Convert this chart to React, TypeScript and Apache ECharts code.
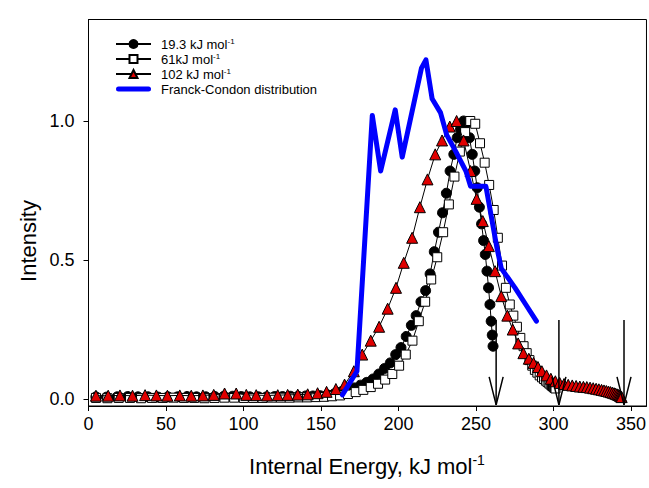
import React, { useEffect, useRef } from "react";
import * as echarts from "echarts";

const FONT = "Liberation Sans, Arial, sans-serif";

// Series names (legend order)
const seriesNames = ["19.3 kJ mol-1", "61kJ mol-1", "102 kJ mol-1", "Franck-Condon distribution"];
const legendLabels: Record<string, string> = {
  "19.3 kJ mol-1": "19.3 kJ mol{sup|-1}",
  "61kJ mol-1": "61kJ mol{sup|-1}",
  "102 kJ mol-1": "102 kJ mol{sup|-1}",
  "Franck-Condon distribution": "Franck-Condon distribution",
};

// Axis ticks
const xTicks = [0, 50, 100, 150, 200, 250, 300, 350];
const yTicks = [0, 0.5, 1.0];

// 19.3 kJ/mol (filled circles)
const circE = [4.8, 11.7, 18.5, 25.3, 31.9, 38.4, 44.9, 51.2, 57.5, 63.6, 69.7, 75.7, 81.5, 87.3, 93.0, 98.6, 104.1, 109.6, 114.9, 120.1, 125.2, 130.3, 135.2, 140.1, 144.8,
  149.5, 154.1, 158.6, 163.0, 167.2, 171.4, 175.5, 179.5, 183.5, 187.3, 191.0, 194.7, 198.2, 201.6, 205.0, 208.3, 211.4, 214.5, 217.5, 220.4, 223.1, 225.8, 228.4, 230.9, 233.3, 235.7, 237.9, 240.0, 242.0, 244.0, 245.8, 247.6, 249.2, 250.8, 252.2, 253.6, 254.9, 256.0, 257.1, 258.1, 259.0, 259.8, 260.5, 261.0];
const circI = [0.008, 0.007, 0.008, 0.009, 0.008, 0.008, 0.007, 0.008, 0.008, 0.009, 0.008, 0.008, 0.009, 0.01, 0.01, 0.009, 0.008, 0.008, 0.008, 0.009, 0.009, 0.01, 0.01, 0.011, 0.011,
  0.012, 0.015, 0.019, 0.024, 0.03, 0.04, 0.05, 0.06, 0.072, 0.09, 0.11, 0.13, 0.16, 0.185, 0.225, 0.265, 0.30, 0.35, 0.39, 0.45, 0.53, 0.60, 0.67, 0.74, 0.82, 0.88, 0.94, 0.97, 1.0, 0.99, 0.94, 0.88, 0.82, 0.76, 0.69, 0.63, 0.57, 0.52, 0.46, 0.40, 0.34, 0.28, 0.23, 0.19];

// 61 kJ/mol (open squares)
const sqE = [4.8, 12.2, 19.5, 26.8, 33.9, 41.0, 47.9, 54.8, 61.6, 68.2, 74.8, 81.3, 87.7, 94.0, 100.2, 106.3, 112.3, 118.3, 124.1, 129.8, 135.5, 141.0, 146.5,
  151.9, 157.1, 162.3, 167.4, 172.4, 177.3, 182.1, 186.8, 191.4, 196.0, 200.4, 204.7, 209.0, 213.1, 217.2, 221.1, 225.0, 228.8, 232.5, 236.1, 239.6, 243.0, 246.3, 249.5, 252.6, 255.6, 258.5, 261.4, 264.1, 266.8, 269.3, 271.8, 274.1, 276.4, 278.6, 280.7, 282.7, 284.5, 286.3, 288.0, 289.6, 291.1, 292.6, 293.9, 295.1, 296.2, 297.3, 298.2, 299.0, 299.7, 300.4, 300.9, 301.3];
const sqI = [0.004, 0.003, 0.004, 0.004, 0.003, 0.004, 0.004, 0.005, 0.004, 0.004, 0.003, 0.004, 0.005, 0.005, 0.004, 0.004, 0.004, 0.005, 0.005, 0.005, 0.006, 0.006, 0.007,
  0.008, 0.01, 0.013, 0.018, 0.025, 0.033, 0.043, 0.055, 0.07, 0.09, 0.12, 0.16, 0.21, 0.28, 0.35, 0.43, 0.51, 0.60, 0.70, 0.80, 0.89, 0.96, 1.0, 0.99, 0.92, 0.85, 0.77, 0.68, 0.58, 0.48, 0.40, 0.34, 0.30, 0.26, 0.22, 0.19, 0.165, 0.14, 0.12, 0.105, 0.095, 0.085, 0.078, 0.072, 0.066, 0.061, 0.056, 0.052, 0.048, 0.045, 0.042, 0.04, 0.038];

// 102 kJ/mol (red triangles)
const triE = [4.8, 12.7, 20.3, 28.4, 36.5, 43.8, 50.9, 58.9, 66.3, 73.8, 80.8, 87.8, 95.3, 101.8, 108.2, 115.2, 122.1, 128.5, 135.0, 141.4, 147.8, 153.6, 159.6, 165.2, 171.2, 176.6, 182.1, 187.5, 193.0, 198.4, 203.4, 208.8, 213.8, 218.7, 223.7, 228.1, 233.1, 237.5, 242.0, 246.5, 250.4, 254.4, 258.3, 262.3, 266.3, 270.2, 273.7, 277.2, 280.6, 284.1, 287.1, 290.0, 292.5, 295.5,
  298.3, 301.2, 304.0, 306.8, 309.5, 312.1, 314.6, 317.0, 319.3, 321.5, 323.6, 325.6, 327.5, 329.3, 331.0, 332.6, 334.1, 335.5, 336.8, 338.0, 339.1, 340.1, 341.0, 341.8, 342.5, 343.1, 343.6, 344.0];
const triI = [0.012, 0.012, 0.013, 0.012, 0.014, 0.013, 0.012, 0.013, 0.012, 0.013, 0.015, 0.02, 0.02, 0.015, 0.014, 0.013, 0.014, 0.015, 0.016, 0.017, 0.021, 0.026, 0.036, 0.052, 0.10, 0.16, 0.21, 0.26, 0.325, 0.40, 0.49, 0.58, 0.69, 0.79, 0.88, 0.93, 0.98, 1.0, 0.93, 0.82, 0.72, 0.64, 0.55, 0.46, 0.37, 0.30, 0.25, 0.20, 0.165, 0.145, 0.13, 0.115, 0.10, 0.085,
  0.073, 0.064, 0.058, 0.054, 0.051, 0.049, 0.047, 0.045, 0.044, 0.043, 0.041, 0.039, 0.037, 0.035, 0.033, 0.031, 0.029, 0.027, 0.025, 0.023, 0.021, 0.019, 0.017, 0.015, 0.013, 0.011, 0.009, 0.007];

// Franck-Condon distribution (blue line)
const fcE = [163.8, 173.2, 183.1, 188.5, 197.9, 202.4, 214.8, 217.7, 221.7, 227.1, 231.1, 237.0, 243.5, 246.5, 256.4, 263.3, 266.3, 275.2, 282.1, 289.0];
const fcI = [0.015, 0.10, 1.02, 0.82, 1.04, 0.87, 1.19, 1.22, 1.08, 1.03, 0.95, 0.89, 0.82, 0.765, 0.765, 0.55, 0.47, 0.40, 0.34, 0.28];

// Available-energy arrows: x position, top, tip
const arrowE = [263, 303.5, 345.5];
const arrowTop = [0.284, 0.284, 0.284];
const arrowTip = [-0.021, -0.021, -0.021];

const zip = (a: number[], b: number[]) => a.map((v, i) => [v, b[i]]);

export default function App() {
  const ref = useRef<HTMLDivElement>(null);
  useEffect(() => {
    document.body.style.margin = "0";
    if (!ref.current) return;
    const chart = echarts.init(ref.current, null, { renderer: "svg" });
    const option: any = {
      animation: false,
      backgroundColor: "#fff",
      textStyle: { fontFamily: FONT },
      grid: { left: 88.5, right: 0.7, top: 19.5, bottom: 82, show: true, borderColor: "#000", borderWidth: 1, backgroundColor: "transparent" },
      xAxis: {
        type: "value", min: 0, max: 360,
        axisLine: { show: true, onZero: false, lineStyle: { color: "#000", width: 1 } },
        axisTick: { show: true, customValues: xTicks, length: 5, lineStyle: { color: "#000", width: 1 } },
        axisLabel: { customValues: xTicks, fontSize: 18, color: "#000", margin: 9, fontFamily: FONT },
        splitLine: { show: false },
      },
      yAxis: {
        type: "value", min: -0.025, max: 1.365,
        axisLine: { show: true, onZero: false, lineStyle: { color: "#000", width: 1 } },
        axisTick: { show: true, customValues: yTicks, length: 5, lineStyle: { color: "#000", width: 1 } },
        axisLabel: { customValues: yTicks, fontSize: 18, color: "#000", margin: 14, fontFamily: FONT, formatter: (v: number) => v.toFixed(1) },
        splitLine: { show: false },
      },
      legend: {
        data: [
          seriesNames[0], seriesNames[1], seriesNames[2],
          { name: seriesNames[3], icon: "path://M2.5,0 H32.5 A2.5,2.5 0 0 1 32.5,5 H2.5 A2.5,2.5 0 0 1 2.5,0 Z", itemStyle: { color: "#0000ff", borderWidth: 0 } },
        ],
        orient: "vertical", left: 115, top: 37, padding: 0,
        itemWidth: 35, itemHeight: 10, itemGap: 1,
        formatter: (n: string) => legendLabels[n],
        textStyle: { fontSize: 13, color: "#000", fontFamily: FONT, lineHeight: 14, padding: [0, 0, 0, 5],
          rich: { sup: { fontSize: 8, verticalAlign: "top", lineHeight: 14, fontFamily: FONT, color: "#000" } } },
      },
      graphic: [
        { type: "text", x: 28, y: 241, rotation: Math.PI / 2,
          style: { text: "Intensity", fontSize: 22, fontFamily: FONT, fill: "#000", align: "center", verticalAlign: "middle", textAlign: "center", textVerticalAlign: "middle" } },
        { type: "text", x: 367, y: 466,
          style: { text: "Internal Energy, kJ mol{sup|-1}", fontSize: 22, fontFamily: FONT, fill: "#000", align: "center", verticalAlign: "middle", textAlign: "center", textVerticalAlign: "middle", lineHeight: 27,
            rich: { sup: { fontSize: 14, verticalAlign: "top", lineHeight: 27, fontFamily: FONT, fill: "#000" } } } },
      ],
      series: [
        { name: seriesNames[0], type: "line", data: zip(circE, circI), symbol: "circle", symbolSize: 10,
          lineStyle: { color: "#000", width: 1 }, itemStyle: { color: "#000", borderColor: "#000", borderWidth: 1 }, z: 2 },
        { name: seriesNames[1], type: "line", data: zip(sqE, sqI), symbol: "rect", symbolSize: 9,
          lineStyle: { color: "#000", width: 1 }, itemStyle: { color: "#fff", borderColor: "#000", borderWidth: 1 }, z: 3 },
        { name: seriesNames[2], type: "line", data: zip(triE, triI), symbol: "triangle", symbolSize: 11,
          lineStyle: { color: "#000", width: 1 }, itemStyle: { color: "#e00000", borderColor: "#000", borderWidth: 1 }, z: 4 },
        { name: seriesNames[3], type: "line", data: zip(fcE, fcI), symbol: "none", showSymbol: false,
          lineStyle: { color: "#0000ff", width: 5, join: "round", cap: "round" }, itemStyle: { color: "#0000ff" }, z: 5 },
        { name: "arrows", type: "custom", silent: true, z: 6,
          data: arrowE.map((e, i) => [e, arrowTop[i], arrowTip[i]]),
          encode: { x: 0, y: [1, 2] },
          renderItem: (_p: any, api: any) => {
            const top = api.coord([api.value(0), api.value(1)]);
            const tip = api.coord([api.value(0), api.value(2)]);
            return {
              type: "group",
              children: [
                { type: "line", shape: { x1: top[0], y1: top[1], x2: tip[0], y2: tip[1] }, style: { stroke: "#000", lineWidth: 1.5 } },
                { type: "polyline", shape: { points: [[tip[0] - 7, tip[1] - 28], [tip[0], tip[1]], [tip[0] + 7, tip[1] - 28]] },
                  style: { stroke: "#000", lineWidth: 1.5, fill: "none" } },
              ],
            };
          } },
      ],
    };
    chart.setOption(option);
    return () => chart.dispose();
  }, []);
  return <div ref={ref} style={{ width: 649, height: 488 }} />;
}
